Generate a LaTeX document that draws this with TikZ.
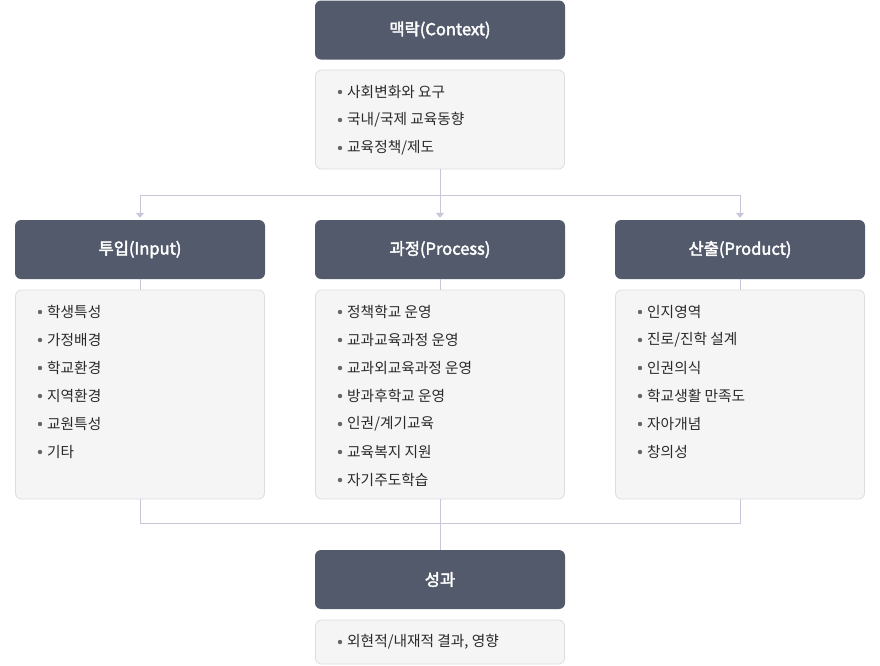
\documentclass[tikz,border=0pt]{standalone}
\usepackage{fontspec}
\setmainfont{Noto Sans CJK KR}
\newfontfamily\headfont{Noto Sans CJK KR}[FakeBold=2.5]
\usetikzlibrary{arrows.meta}
\definecolor{headfill}{HTML}{525A6B}
\definecolor{listfill}{HTML}{F5F5F5}
\definecolor{listline}{HTML}{DDDDDD}
\definecolor{linkcol}{HTML}{C6C8D8}
\definecolor{itemtext}{HTML}{2A2A2A}
\definecolor{dotcol}{HTML}{666666}

\begin{document}
\begin{tikzpicture}[x=1pt,y=-1pt,font=\fontsize{14.7}{17}\selectfont]
    \tikzstyle{head}=[rectangle,fill=headfill,rounded corners=6pt,minimum width=250pt,minimum height=59pt,inner sep=0pt,text=white,font=\fontsize{16.5}{19}\headfont]
    \tikzstyle{list}=[rectangle,draw=listline,fill=listfill,rounded corners=6pt,minimum width=249pt,line width=0.8pt,inner sep=0pt]
    \tikzstyle{item}=[anchor=west,inner sep=0pt,text=itemtext]
    \tikzstyle{link}=[draw=linkcol,line width=1pt]
    \useasboundingbox (0,0) rectangle (880,665);
    % header boxes
    \node [head] (ctxhead) at (440,30) {맥락(Context)};
    \node [head] (inphead) at (140,249.5) {투입(Input)};
    \node [head] (prohead) at (440,249.5) {과정(Process)};
    \node [head] (outhead) at (740,249.5) {산출(Product)};
    \node [head] (reshead) at (440,579.5) {성과};
    % list boxes
    \node [list,minimum height=99pt] (ctx) at (440,119.5) {};
    \node [list,minimum height=209pt] (inp) at (140,394.5) {};
    \node [list,minimum height=209pt] (pro) at (440,394.5) {};
    \node [list,minimum height=209pt] (out) at (740,394.5) {};
    \node [list,minimum height=44pt] (res) at (440,642) {};
    % items
    \foreach \t [count=\i] in {사회변화와 요구, 국내/국제 교육동향, 교육정책/제도} {
      \node [item] (ctx-\i) at (347,{64+28*\i}) {\t};
      \fill [dotcol] (340,{64+28*\i}) circle (2.2pt);
    }
    \foreach \t [count=\i] in {학생특성, 가정배경, 학교환경, 지역환경, 교원특성, 기타} {
      \node [item] (inp-\i) at (47,{284+28*\i}) {\t};
      \fill [dotcol] (40,{284+28*\i}) circle (2.2pt);
    }
    \foreach \t [count=\i] in {정책학교 운영, 교과교육과정 운영, 교과외교육과정 운영, 방과후학교 운영, 인권/계기교육, 교육복지 지원, 자기주도학습} {
      \node [item] (pro-\i) at (347,{284+28*\i}) {\t};
      \fill [dotcol] (340,{284+28*\i}) circle (2.2pt);
    }
    \foreach \t [count=\i] in {인지영역, 진로/진학 설계, 인권의식, 학교생활 만족도, 자아개념, 창의성} {
      \node [item] (out-\i) at (647,{284+28*\i}) {\t};
      \fill [dotcol] (640,{284+28*\i}) circle (2.2pt);
    }
    \node [item] (res-1) at (347,642) {외현적/내재적 결과, 영향};
    \fill [dotcol] (340,642) circle (2.2pt);
    % connectors
    \coordinate (split) at (440,195);
    \coordinate (merge) at (440,523);
    \draw [link] (ctx.south) -- (split);
    \draw [link,-{Triangle[width=8pt,length=5pt]},shorten >=2pt] (split) -| (inphead.north);
    \draw [link,-{Triangle[width=8pt,length=5pt]},shorten >=2pt] (split) -- (prohead.north);
    \draw [link,-{Triangle[width=8pt,length=5pt]},shorten >=2pt] (split) -| (outhead.north);
    \draw [link] (inphead.south) -- (inp.north);
    \draw [link] (prohead.south) -- (pro.north);
    \draw [link] (outhead.south) -- (out.north);
    \draw [link] (inp.south) |- (merge);
    \draw [link] (out.south) |- (merge);
    \draw [link] (pro.south) -- (reshead.north);
\end{tikzpicture}
\end{document}
